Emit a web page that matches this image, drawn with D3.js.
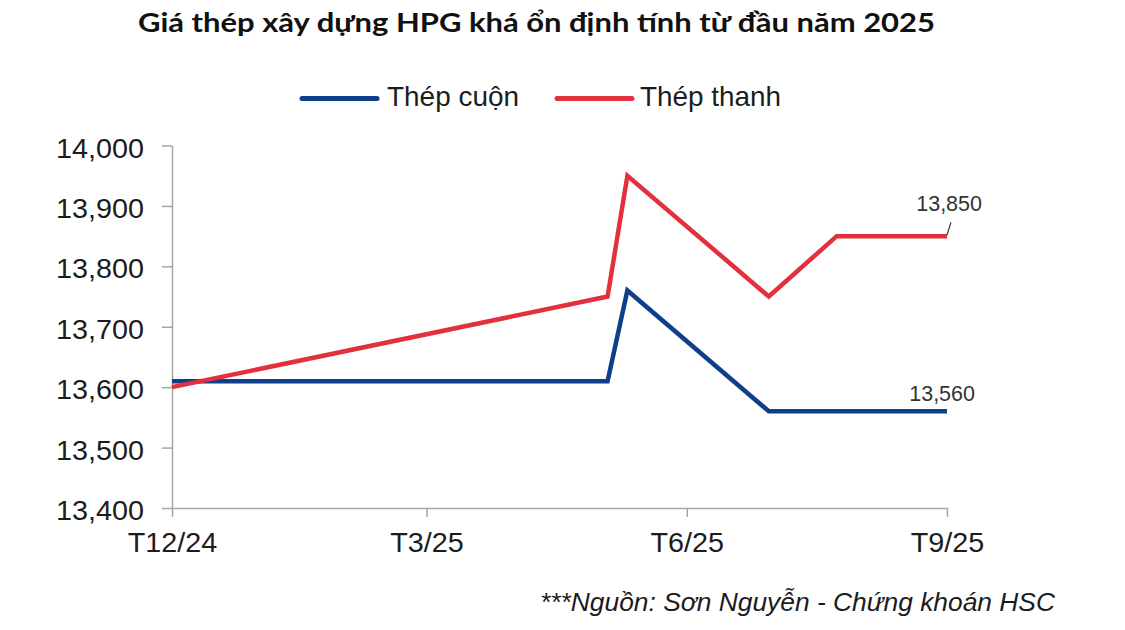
<!DOCTYPE html>
<html>
<head>
<meta charset="utf-8">
<script src="https://cdn.jsdelivr.net/npm/d3@7"></script>
<style>
  html, body { margin: 0; padding: 0; background: #fff; }
  svg { display: block; }
</style>
</head>
<body>
<svg id="chart" width="1125" height="630"></svg>
<script>
// ---- Data ----
const dates = ["2024-12-01", "2025-05-04", "2025-05-11", "2025-06-30", "2025-07-24", "2025-09-01"];
const coilValues = [13610, 13610, 13760, 13560, 13560, 13560];   // Thép cuộn
const barValues  = [13600, 13750, 13950, 13750, 13850, 13850];   // Thép thanh
const seriesNames = ["Thép cuộn", "Thép thanh"];
const xTickDates = ["2024-12-01", "2025-03-01", "2025-06-01", "2025-09-01"];
const xTickLabels = ["T12/24", "T3/25", "T6/25", "T9/25"];
const yTickValues = [13400, 13500, 13600, 13700, 13800, 13900, 14000];
const titleText = "Giá thép xây dựng HPG khá ổn định tính từ đầu năm 2025";
const sourceText = "***Nguồn: Sơn Nguyễn - Chứng khoán HSC";

// ---- Setup ----
const parse = d3.timeParse("%Y-%m-%d");
const svg = d3.select("#chart");
const colors = ["#0f3e8b", "#e2303d"];
const axisColor = "#a6a6a6";
const textColor = "#1c1c1c";
const stretch = 1.065;
const sans = "'Liberation Sans', Arial, sans-serif";

const plot = { left: 172, right: 947, top: 145.5, bottom: 508 };

const x = d3.scaleTime()
  .domain([parse(xTickDates[0]), parse(xTickDates[xTickDates.length - 1])])
  .range([plot.left, plot.right]);
const y = d3.scaleLinear()
  .domain([13400, 14000])
  .range([plot.bottom, plot.top]);

// Title
svg.append("text")
  .attr("x", 138).attr("y", 32)
  .attr("font-family", "Lato, 'Open Sans', sans-serif")
  .attr("font-weight", "bold")
  .attr("font-size", 26)
  .attr("fill", "#111")
  .attr("textLength", 797)
  .attr("lengthAdjust", "spacingAndGlyphs")
  .text(titleText);

// Legend
const legendItems = [
  { x1: 302, x2: 377, tx: 387, tw: 132 },
  { x1: 557, x2: 632, tx: 640, tw: 141 }
];
legendItems.forEach((li, i) => {
  svg.append("line")
    .attr("x1", li.x1).attr("x2", li.x2)
    .attr("y1", 98.5).attr("y2", 98.5)
    .attr("stroke", colors[i]).attr("stroke-width", 5)
    .attr("stroke-linecap", "round");
  svg.append("text")
    .attr("x", li.tx).attr("y", 106)
    .attr("font-family", sans)
    .attr("font-size", 28)
    .attr("fill", textColor)
    .attr("textLength", li.tw)
    .attr("lengthAdjust", "spacingAndGlyphs")
    .text(seriesNames[i]);
});

// Y axis
const yAxis = d3.axisLeft(y)
  .tickValues(yTickValues)
  .tickFormat(d3.format(","))
  .tickSize(10)
  .tickSizeOuter(0);
const gy = svg.append("g")
  .attr("transform", `translate(${plot.left},0)`)
  .call(yAxis);
gy.select(".domain").attr("stroke", axisColor).attr("stroke-width", 1.5);
gy.selectAll(".tick line").attr("stroke", axisColor).attr("stroke-width", 1.5);
gy.selectAll(".tick text")
  .attr("font-family", sans)
  .attr("font-size", 27)
  .attr("fill", textColor)
  .attr("x", -28 / stretch)
  .attr("dy", "0.43em")
  .attr("transform", `scale(${stretch},1)`);

// X axis
const xAxis = d3.axisBottom(x)
  .tickValues(xTickDates.map(parse))
  .tickFormat((d, i) => xTickLabels[i])
  .tickSize(9)
  .tickSizeOuter(0);
const gx = svg.append("g")
  .attr("transform", `translate(0,${plot.bottom})`)
  .call(xAxis);
gx.select(".domain").attr("stroke", axisColor).attr("stroke-width", 1.5);
gx.selectAll(".tick line").attr("stroke", axisColor).attr("stroke-width", 1.5);
gx.selectAll(".tick text")
  .attr("font-family", sans)
  .attr("font-size", 27)
  .attr("fill", textColor)
  .attr("y", 25)
  .attr("dy", "0.71em")
  .attr("transform", `scale(${stretch},1)`);

// Lines
const lineGen = d3.line()
  .x((d) => x(d.date))
  .y((d) => y(d.value));
[coilValues, barValues].forEach((vals, i) => {
  const data = dates.map((d, j) => ({ date: parse(d), value: vals[j] }));
  svg.append("path")
    .datum(data)
    .attr("fill", "none")
    .attr("stroke", colors[i])
    .attr("stroke-width", 4.5)
    .attr("stroke-linejoin", "miter")
    .attr("d", lineGen);
});

// End labels
const lastDate = parse(dates[dates.length - 1]);
const fmt = d3.format(",");
const barEnd = barValues[barValues.length - 1];
svg.append("line")
  .attr("x1", x(lastDate)).attr("y1", y(barEnd) - 1)
  .attr("x2", x(lastDate) + 4).attr("y2", y(barEnd) - 14)
  .attr("stroke", "#333").attr("stroke-width", 1.2);
svg.append("text")
  .attr("x", x(lastDate) + 35).attr("y", y(barEnd) - 25)
  .attr("text-anchor", "end")
  .attr("font-family", sans)
  .attr("font-size", 21.5)
  .attr("fill", "#333")
  .text(fmt(barEnd));
const coilEnd = coilValues[coilValues.length - 1];
svg.append("text")
  .attr("x", x(lastDate) + 28).attr("y", y(coilEnd) - 10)
  .attr("text-anchor", "end")
  .attr("font-family", sans)
  .attr("font-size", 21.5)
  .attr("fill", "#333")
  .text(fmt(coilEnd));

// Source
svg.append("text")
  .attr("x", 540).attr("y", 611)
  .attr("font-family", sans)
  .attr("font-style", "italic")
  .attr("font-size", 26)
  .attr("fill", textColor)
  .attr("textLength", 515)
  .attr("lengthAdjust", "spacingAndGlyphs")
  .text(sourceText);
</script>
</body>
</html>
